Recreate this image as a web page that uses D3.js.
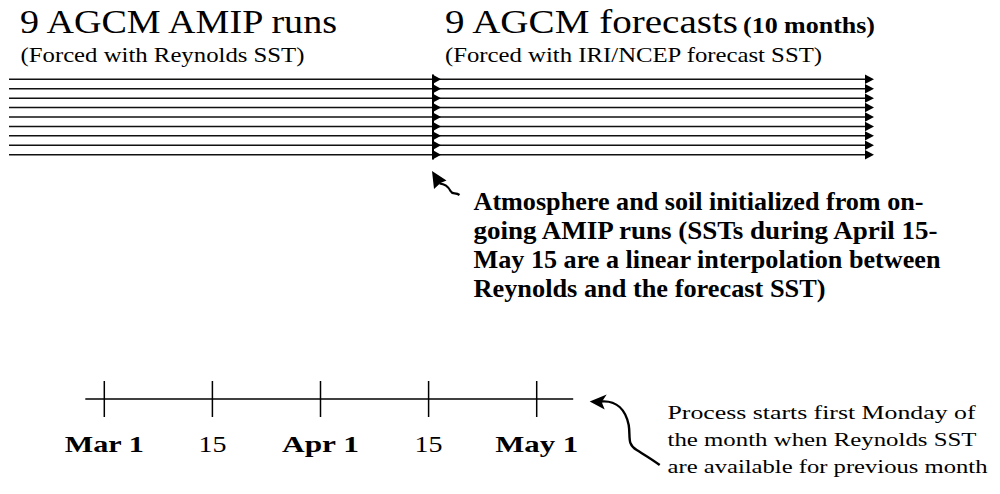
<!DOCTYPE html>
<html>
<head>
<meta charset="utf-8">
<script src="https://cdn.jsdelivr.net/npm/d3@7/dist/d3.min.js"></script>
<style>
  html, body { margin: 0; padding: 0; background: #fff; }
  svg { display: block; }
</style>
</head>
<body>
<svg id="chart" width="1000" height="494"></svg>
<script>
// ---- data ----
const runs = ["Run 1", "Run 2", "Run 3", "Run 4", "Run 5", "Run 6", "Run 7", "Run 8", "Run 9"];
const stages = ["AMIP start", "Forecast start", "Forecast end"];
const phaseTitles = ["9 AGCM AMIP runs", "9 AGCM forecasts"];
const phaseTitleNote = "(10 months)";
const phaseSubtitles = ["(Forced with Reynolds SST)", "(Forced with IRI/NCEP forecast SST)"];
const initNote = [
  "Atmosphere and soil initialized from on-",
  "going AMIP runs (SSTs during April 15-",
  "May 15 are a linear interpolation between",
  "Reynolds and the forecast SST)"
];
const tickDates = ["Mar 1", "Mar 15", "Apr 1", "Apr 15", "May 1"];
const tickLabels = ["Mar 1", "15", "Apr 1", "15", "May 1"];
const processNote = [
  "Process starts first Monday of",
  "the month when Reynolds SST",
  "are available for previous month"
];

// ---- drawing ----
const FONT = "'Liberation Serif', 'Times New Roman', Tinos";
const svg = d3.select("#chart");
svg.append("rect").attr("width", 1000).attr("height", 494).attr("fill", "#fff");

const x = d3.scalePoint().domain(stages).range([9, 866]);
const y = d3.scalePoint().domain(runs).range([79.3, 154.7]);
const xMid = x(stages[1]), xEnd = x(stages[2]), xStart = x(stages[0]);
const halfH = y.step() / 2;

function txt(sel) {
  return sel.style("font-family", FONT).attr("fill", "#000")
    .attr("lengthAdjust", "spacingAndGlyphs");
}

// run lines
const g = svg.append("g");
g.selectAll("line.run").data(runs).join("line")
  .attr("class", "run")
  .attr("x1", xStart).attr("x2", xEnd)
  .attr("y1", d => y(d)).attr("y2", d => y(d))
  .attr("stroke", "#111").attr("stroke-width", 1.5);

// arrowheads at initialization and at forecast end
function head(xb, yc, len) {
  return `M${xb},${yc - halfH}L${xb + len},${yc}L${xb},${yc + halfH}Z`;
}
g.selectAll("path.midHead").data(runs).join("path")
  .attr("class", "midHead")
  .attr("d", d => head(xMid - 5, y(d), 8.5))
  .attr("fill", "#000");
g.selectAll("path.endHead").data(runs).join("path")
  .attr("class", "endHead")
  .attr("d", d => head(xEnd - 1, y(d), 9))
  .attr("fill", "#000");
g.append("line")
  .attr("x1", xMid - 4.5).attr("x2", xMid - 4.5)
  .attr("y1", y(runs[0]) - halfH).attr("y2", y(runs[runs.length - 1]) + halfH)
  .attr("stroke", "#000").attr("stroke-width", 2);

// titles
txt(svg.append("text")).attr("x", xStart + 11).attr("y", 33)
  .attr("font-size", 33).attr("textLength", 317)
  .text(phaseTitles[0]);
txt(svg.append("text")).attr("x", xMid + 7.5).attr("y", 33)
  .attr("font-size", 33).attr("textLength", 293)
  .text(phaseTitles[1]);
txt(svg.append("text")).attr("x", xMid + 305.5).attr("y", 33)
  .attr("font-size", 24).attr("font-weight", "bold")
  .attr("textLength", 132)
  .text(phaseTitleNote);
txt(svg.append("text")).attr("x", xStart + 11.5).attr("y", 61.5)
  .attr("font-size", 22).attr("textLength", 284)
  .text(phaseSubtitles[0]);
txt(svg.append("text")).attr("x", xMid + 7.5).attr("y", 61.5)
  .attr("font-size", 22).attr("textLength", 377)
  .text(phaseSubtitles[1]);

// initialization annotation arrow
svg.append("path")
  .attr("d", `M${xMid - 5.5},171 L${xMid + 9},180.5 L${xMid + 3},183 L${xMid - 3.5},189 Z`)
  .attr("fill", "#000");
svg.append("path")
  .attr("d", `M${xMid + 2},183.5 C${xMid + 8},184 ${xMid + 11},187 ${xMid + 13},191 S${xMid + 18},192 ${xMid + 22},195`)
  .attr("fill", "none").attr("stroke", "#000").attr("stroke-width", 2.2);

const initLens = [450, 464, 467, 352];
txt(svg.append("g").selectAll("text").data(initNote).join("text"))
  .attr("x", 473.5)
  .attr("y", (d, i) => 209.5 + i * 29.3)
  .attr("font-size", 25).attr("font-weight", "bold")
  .attr("textLength", (d, i) => initLens[i])
  .text(d => d);

// timeline
const t = d3.scalePoint().domain(tickDates).range([104.3, 536.7]);
const ty = 399;
const tl = svg.append("g");
tl.append("line")
  .attr("x1", t.range()[0] - 19).attr("x2", t.range()[1] + 36.5)
  .attr("y1", ty).attr("y2", ty)
  .attr("stroke", "#000").attr("stroke-width", 1.5);
tl.selectAll("line.tick").data(tickDates).join("line")
  .attr("class", "tick")
  .attr("x1", d => t(d)).attr("x2", d => t(d))
  .attr("y1", ty - 18).attr("y2", ty + 18)
  .attr("stroke", "#000").attr("stroke-width", 1.5);
const labelLens = { "Mar 1": 79, "15": 28, "Apr 1": 77, "May 1": 83 };
txt(tl.selectAll("text").data(tickDates).join("text"))
  .attr("x", d => t(d))
  .attr("y", 451.5)
  .attr("text-anchor", "middle")
  .attr("font-size", 24)
  .attr("font-weight", (d, i) => /[A-Za-z]/.test(tickLabels[i]) ? "bold" : "normal")
  .attr("textLength", (d, i) => labelLens[tickLabels[i]])
  .text((d, i) => tickLabels[i]);

// process arrow
const ax = t.range()[1] + 53;
svg.append("path")
  .attr("d", `M${ax},401.5 L${ax + 17},394.5 L${ax + 12},402 L${ax + 15},409.5 Z`)
  .attr("fill", "#000");
svg.append("path")
  .attr("d", `M${ax + 11},401.5 C${ax + 27},400 ${ax + 36},410 ${ax + 39},425 C${ax + 41},437 ${ax + 37},444 ${ax + 47},450 C${ax + 55},455 ${ax + 62},459 ${ax + 70},465`)
  .attr("fill", "none").attr("stroke", "#000").attr("stroke-width", 2.4);

const procLens = [308, 309, 320];
txt(svg.append("g").selectAll("text").data(processNote).join("text"))
  .attr("x", 667.5)
  .attr("y", (d, i) => 418.5 + i * 27)
  .attr("font-size", 19)
  .attr("textLength", (d, i) => procLens[i])
  .text(d => d);
</script>
</body>
</html>
